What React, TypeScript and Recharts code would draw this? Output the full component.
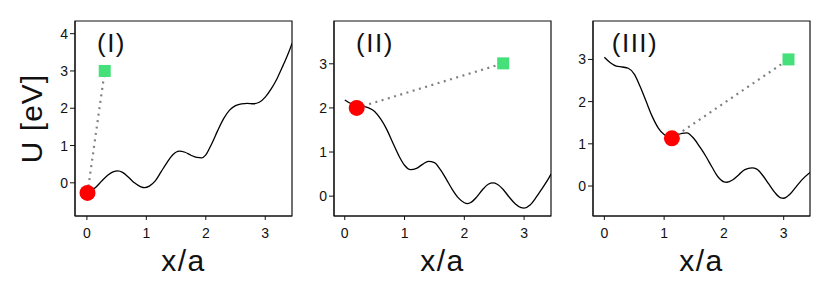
import React from 'react';
import { ComposedChart, Line, Scatter, XAxis, YAxis, ReferenceArea } from 'recharts';

// potential energy curves U(x) for the three configurations
const curveI = [
  { x: 0.02, u: -0.27 }, { x: 0.15, u: -0.12 }, { x: 0.25, u: 0.05 }, { x: 0.35, u: 0.2 },
  { x: 0.45, u: 0.3 }, { x: 0.52, u: 0.32 }, { x: 0.6, u: 0.28 }, { x: 0.7, u: 0.15 },
  { x: 0.8, u: 0.0 }, { x: 0.9, u: -0.1 }, { x: 0.97, u: -0.13 }, { x: 1.05, u: -0.09 },
  { x: 1.15, u: 0.05 }, { x: 1.25, u: 0.3 }, { x: 1.35, u: 0.55 }, { x: 1.45, u: 0.76 },
  { x: 1.55, u: 0.85 }, { x: 1.65, u: 0.82 }, { x: 1.75, u: 0.74 }, { x: 1.85, u: 0.68 },
  { x: 1.93, u: 0.67 }, { x: 2.0, u: 0.75 }, { x: 2.1, u: 1.05 }, { x: 2.2, u: 1.4 },
  { x: 2.3, u: 1.72 }, { x: 2.4, u: 1.95 }, { x: 2.5, u: 2.07 }, { x: 2.6, u: 2.12 },
  { x: 2.7, u: 2.13 }, { x: 2.8, u: 2.12 }, { x: 2.9, u: 2.16 }, { x: 3.0, u: 2.3 },
  { x: 3.1, u: 2.52 }, { x: 3.2, u: 2.8 }, { x: 3.3, u: 3.15 }, { x: 3.4, u: 3.52 },
  { x: 3.45, u: 3.74 },
];

const curveII = [
  { x: 0.0, u: 2.18 }, { x: 0.1, u: 2.1 }, { x: 0.2, u: 2.05 }, { x: 0.3, u: 2.04 },
  { x: 0.4, u: 2.0 }, { x: 0.5, u: 1.92 }, { x: 0.6, u: 1.75 }, { x: 0.7, u: 1.52 },
  { x: 0.8, u: 1.22 }, { x: 0.9, u: 0.93 }, { x: 1.0, u: 0.7 }, { x: 1.1, u: 0.6 },
  { x: 1.2, u: 0.63 }, { x: 1.3, u: 0.72 }, { x: 1.4, u: 0.79 }, { x: 1.5, u: 0.76 },
  { x: 1.6, u: 0.6 }, { x: 1.7, u: 0.38 }, { x: 1.8, u: 0.15 }, { x: 1.9, u: -0.04 },
  { x: 2.0, u: -0.15 }, { x: 2.05, u: -0.17 }, { x: 2.1, u: -0.15 }, { x: 2.2, u: -0.03 },
  { x: 2.3, u: 0.14 }, { x: 2.4, u: 0.27 }, { x: 2.48, u: 0.3 }, { x: 2.55, u: 0.27 },
  { x: 2.65, u: 0.15 }, { x: 2.75, u: -0.02 }, { x: 2.85, u: -0.17 }, { x: 2.95, u: -0.26 },
  { x: 3.0, u: -0.27 }, { x: 3.1, u: -0.2 }, { x: 3.2, u: -0.03 }, { x: 3.3, u: 0.17 },
  { x: 3.4, u: 0.38 }, { x: 3.45, u: 0.5 },
];

const curveIII = [
  { x: 0.0, u: 3.05 }, { x: 0.1, u: 2.92 }, { x: 0.2, u: 2.84 }, { x: 0.3, u: 2.82 },
  { x: 0.4, u: 2.79 }, { x: 0.5, u: 2.65 }, { x: 0.6, u: 2.35 }, { x: 0.7, u: 2.0 },
  { x: 0.8, u: 1.65 }, { x: 0.9, u: 1.38 }, { x: 1.0, u: 1.22 }, { x: 1.05, u: 1.18 },
  { x: 1.1, u: 1.17 }, { x: 1.2, u: 1.2 }, { x: 1.3, u: 1.25 }, { x: 1.38, u: 1.26 },
  { x: 1.5, u: 1.12 }, { x: 1.6, u: 0.92 }, { x: 1.7, u: 0.7 }, { x: 1.8, u: 0.45 },
  { x: 1.9, u: 0.22 }, { x: 2.0, u: 0.1 }, { x: 2.05, u: 0.09 }, { x: 2.15, u: 0.15 },
  { x: 2.25, u: 0.27 }, { x: 2.35, u: 0.39 }, { x: 2.47, u: 0.43 }, { x: 2.55, u: 0.4 },
  { x: 2.65, u: 0.25 }, { x: 2.75, u: 0.05 }, { x: 2.85, u: -0.15 }, { x: 2.95, u: -0.28 },
  { x: 3.0, u: -0.29 }, { x: 3.1, u: -0.2 }, { x: 3.2, u: -0.03 }, { x: 3.3, u: 0.14 },
  { x: 3.44, u: 0.32 },
];

// current state (red) and target state (green)
const startI = [{ x: 0.01, u: -0.27 }];
const targetI = [{ x: 0.3, u: 3.0 }];
const startII = [{ x: 0.2, u: 2.0 }];
const targetII = [{ x: 2.65, u: 3.01 }];
const startIII = [{ x: 1.13, u: 1.13 }];
const targetIII = [{ x: 3.08, u: 3.0 }];

const xTicks = [0, 1, 2, 3];
const yTicksI = [0, 1, 2, 3, 4];
const yTicksII = [0, 1, 2, 3];
const yTicksIII = [0, 1, 2, 3];

const FONT = '"Liberation Sans", Arial, Helvetica, sans-serif';
const INK = '#111';

const RedDot = (props: any) => <circle cx={props.cx} cy={props.cy} r={8} fill="#ff0000" />;
const GreenSquare = (props: any) => (
  <rect x={props.cx - 6} y={props.cy - 6} width={12} height={12} fill="#46e07a" />
);

const renderYLabel = (props: any) => {
  const vb = props.viewBox || {};
  const cx = (vb.x || 0) + 42;
  const cy = (vb.y || 0) + (vb.height || 0) / 2;
  return (
    <text x={cx} y={cy} transform={`rotate(-90, ${cx}, ${cy})`} textAnchor="middle"
      fontSize={30} fontFamily={FONT} fill={INK} letterSpacing={1}>
      U [eV]
    </text>
  );
};

interface PanelProps {
  left: number;
  width: number;
  margin: { top: number; right: number; left: number; bottom: number };
  yWidth: number;
  xDomain: [number, number];
  yDomain: [number, number];
  yTicks: number[];
  curve: { x: number; u: number }[];
  start: { x: number; u: number }[];
  target: { x: number; u: number }[];
  title: string;
  titleX: number;
  showYLabel?: boolean;
}

const Panel: React.FC<PanelProps> = (p) => {
  const path = [p.start[0], p.target[0]];
  const tickStyle = { fontSize: 14, fill: INK, fontFamily: FONT };
  return (
    <div style={{ position: 'absolute', left: p.left, top: 0, width: p.width, height: 299 }}>
      <ComposedChart width={p.width} height={299} margin={p.margin}>
        <XAxis dataKey="x" type="number" domain={p.xDomain} ticks={xTicks} allowDataOverflow
          tick={tickStyle} tickSize={4} tickMargin={8} stroke={INK} height={83}
          label={{ value: 'x/a', position: 'insideBottom', offset: 28, fontSize: 30, fill: INK, fontFamily: FONT, letterSpacing: 1.5 }} />
        <YAxis dataKey="u" type="number" domain={p.yDomain} ticks={p.yTicks} allowDataOverflow
          tick={tickStyle} tickSize={5} tickMargin={2} stroke={INK} width={p.yWidth}
          label={p.showYLabel ? renderYLabel : undefined} />
        {/* plot frame */}
        <ReferenceArea x1={p.xDomain[0]} x2={p.xDomain[1]} y1={p.yDomain[0]} y2={p.yDomain[1]}
          fill="none" fillOpacity={0} stroke={INK} strokeWidth={1.2} strokeOpacity={1} ifOverflow="visible" />
        <Line data={p.curve} dataKey="u" type="monotone" stroke="#000" strokeWidth={1.3}
          dot={false} activeDot={false} isAnimationActive={false} />
        <Scatter data={p.start} dataKey="u" shape={RedDot} isAnimationActive={false} />
        <Scatter data={p.target} dataKey="u" shape={GreenSquare} isAnimationActive={false} />
        <Line data={path} dataKey="u" type="linear" stroke="#808080" strokeWidth={2.2}
          strokeDasharray="2 4.5" dot={false} activeDot={false} isAnimationActive={false} />
      </ComposedChart>
      <svg style={{ position: 'absolute', left: 0, top: 0, pointerEvents: 'none' }} width={p.width} height={80}>
        <text x={p.titleX} y={52} textAnchor="middle" fontSize={26} fontFamily={FONT} fill={INK} letterSpacing={1.5}>
          {p.title}
        </text>
      </svg>
    </div>
  );
};

export default function App() {
  return (
    <div style={{ position: 'absolute', left: 0, top: 0, width: 830, height: 299, background: '#fff' }}>
      <Panel left={0} width={300} margin={{ top: 21, right: 8, left: 0, bottom: 0 }} yWidth={75}
        xDomain={[-0.2, 3.45]} yDomain={[-0.89, 4.34]} yTicks={yTicksI}
        curve={curveI} start={startI} target={targetI} title="(I)" titleX={111.5} showYLabel />
      <Panel left={300} width={260} margin={{ top: 21, right: 9, left: 9, bottom: 0 }} yWidth={25}
        xDomain={[-0.18, 3.45]} yDomain={[-0.45, 3.97]} yTicks={yTicksII}
        curve={curveII} start={startII} target={targetII} title="(II)" titleX={75} />
      <Panel left={560} width={270} margin={{ top: 21, right: 20, left: 8, bottom: 0 }} yWidth={25}
        xDomain={[-0.19, 3.44]} yDomain={[-0.71, 3.91]} yTicks={yTicksIII}
        curve={curveIII} start={startIII} target={targetIII} title="(III)" titleX={75} />
    </div>
  );
}
